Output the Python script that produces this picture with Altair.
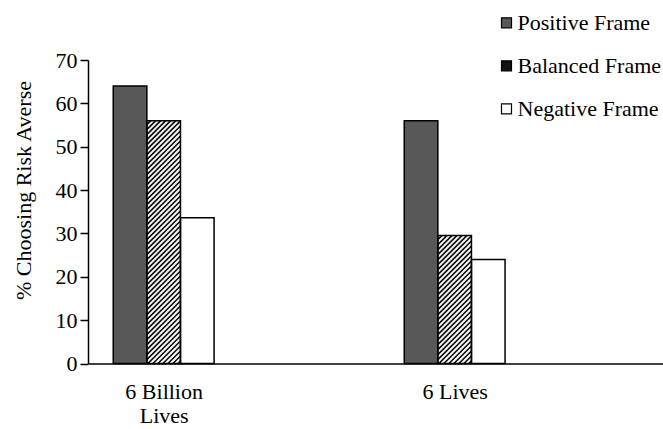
import json
import altair as alt
import pandas as pd

categories = ["6 Billion Lives", "6 Lives"]
category_lines = [["6 Billion", "Lives"], ["6 Lives"]]
frames = ["Positive Frame", "Balanced Frame", "Negative Frame"]
values_6_billion = [64, 56, 33.6]
values_6_lives = [56, 29.5, 24]
frame_fills = ["#585858", "#111111", "#ffffff"]

rows = []
for ci, (cat, vals) in enumerate(zip(categories, [values_6_billion, values_6_lives])):
    for fi, (fr, v) in enumerate(zip(frames, vals)):
        rows.append({"category": cat, "ci": ci, "frame": fr, "fi": fi, "v": v})
df = pd.DataFrame(rows)

W, H = 575, 303.5
XDOM = [-0.26, 1.716]
YDOM = [0, 70]
BW = 0.1155
px_x = W / (XDOM[1] - XDOM[0])
px_y = H / (YDOM[1] - YDOM[0])
DY = BW * px_x / px_y
STEP = 5 / px_y
FONT = "Liberation Serif"
FS = 22

xscale = alt.Scale(domain=XDOM, nice=False, zero=False)
yscale = alt.Scale(domain=YDOM, nice=False)

base = alt.Chart(df).transform_calculate(
    xl=f"datum.ci + (datum.fi - 1.5) * {BW}",
    xr=f"datum.ci + (datum.fi - 0.5) * {BW}",
    zero="0",
)

x_axis = alt.Axis(
    values=[0, 1], labelExpr=f"{json.dumps(category_lines)}[datum.value]",
    ticks=False, tickSize=0, grid=False, domainColor="black", domainWidth=1.5,
    labelFont=FONT, labelFontSize=FS, labelColor="black", labelPadding=18,
    labelBaseline="top", labelLineHeight=24, labelAngle=0, labelFlush=False,
    labelOverlap=False, title=None,
)
y_axis = alt.Axis(
    values=list(range(0, 71, 10)), grid=False, domainColor="black", domainWidth=1.5,
    tickColor="black", tickWidth=1.5, tickSize=8, labelPadding=3,
    labelFont=FONT, labelFontSize=FS, labelColor="black",
    title="% Choosing Risk Averse", titleFont=FONT, titleFontSize=FS,
    titleFontWeight="normal", titleColor="black", titleX=-65, titleY=130,
    titleAlign="center", titleBaseline="middle",
)

fills = base.mark_bar(strokeWidth=0).encode(
    x=alt.X("xl:Q", scale=xscale, axis=x_axis),
    x2="xr:Q",
    y=alt.Y("v:Q", scale=yscale, axis=y_axis),
    y2="zero:Q",
    fill=alt.Fill(
        "frame:N", scale=alt.Scale(domain=frames, range=frame_fills),
        legend=alt.Legend(
            title=None, orient="none", legendX=407.5, legendY=-48.2,
            symbolType="square", symbolSize=100, symbolStrokeColor="black",
            symbolStrokeWidth=1.2, labelFont=FONT, labelFontSize=FS,
            labelColor="black", labelOffset=0, rowPadding=21, labelLimit=300,
            padding=0,
        ),
    ),
)

stripes = base.transform_filter(
    f"datum.frame == '{frames[1]}'"
).transform_calculate(
    k=f"sequence({-DY}, datum.v, {STEP})"
).transform_flatten(["k"]).transform_calculate(
    y0="max(datum.k, 0)",
    y1=f"min(datum.k + {DY}, datum.v)",
).transform_calculate(
    x0=f"datum.xl + (datum.y0 - datum.k) / {DY} * {BW}",
    x1=f"datum.xl + (datum.y1 - datum.k) / {DY} * {BW}",
).transform_filter("datum.y1 > datum.y0").mark_rule(
    color="white", strokeWidth=1.8
).encode(
    x=alt.X("x0:Q", scale=xscale),
    x2="x1:Q",
    y=alt.Y("y0:Q", scale=yscale),
    y2="y1:Q",
)

outlines = base.mark_bar(fill="transparent", stroke="black", strokeWidth=1.5).encode(
    x=alt.X("xl:Q", scale=xscale),
    x2="xr:Q",
    y=alt.Y("v:Q", scale=yscale),
    y2="zero:Q",
)

chart = alt.layer(fills, stripes, outlines).properties(
    width=W, height=H,
    padding={"left": 88, "top": 60, "right": 0, "bottom": 65.5},
    autosize=alt.AutoSizeParams(type="none"),
).configure_view(stroke=None)

chart.save("out.html", embed_options={"renderer": "svg", "actions": False})
